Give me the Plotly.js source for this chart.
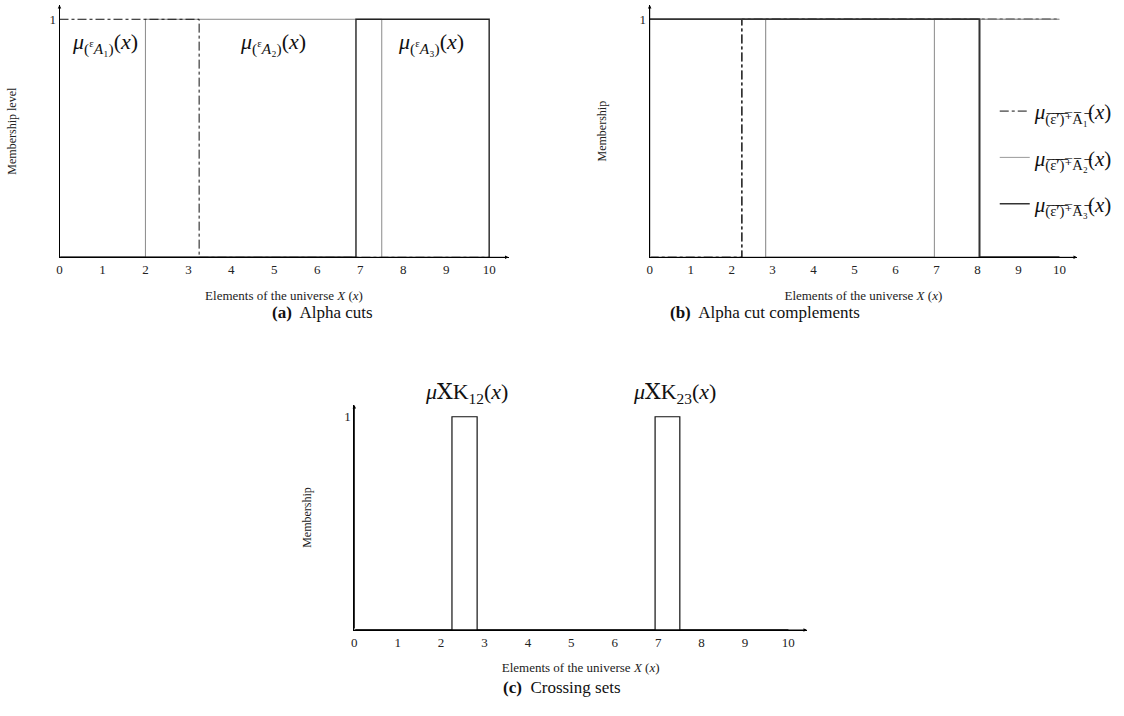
<!DOCTYPE html>
<html>
<head>
<meta charset="utf-8">
<script src="https://cdn.plot.ly/plotly-3.0.1.min.js"></script>
<style>html,body{margin:0;padding:0;background:#fff}#chart{width:1124px;height:716px}</style>
</head>
<body>
<div id="chart"></div>
<script>
// ---- data ----
const xTicks = [0,1,2,3,4,5,6,7,8,9,10];
// (a) alpha cuts (step breakpoints, hv)
const cutA1_x = [0, 3.25, 10],       cutA1_y = [1, 0, 0];
const cutA2_x = [0, 2, 7.5, 10],     cutA2_y = [0, 1, 0, 0];
const cutA3_x = [0, 6.9, 10],        cutA3_y = [0, 1, 0];
// (b) alpha cut complements
const compA1_x = [0, 2.25, 10],            compA1_y = [0, 1, 1];
const compA2_x = [0, 2.83, 6.95, 10],      compA2_y = [1, 0, 1, 1];
const compA3_x = [0, 8.05, 10],            compA3_y = [1, 0, 0];
// (c) crossing sets
const cross12_x = [0, 2.25, 2.83, 10],     cross12_y = [0, 1, 0, 0];
const cross23_x = [0, 6.93, 7.5, 10],      cross23_y = [0, 1, 0, 0];

const F = "Liberation Serif, DejaVu Serif, serif";
const OL = s => s.split('').map(c => c + '\u0305').join('');
const legA1 = '<i>μ</i><sub>' + OL('(ε′)⁺A₁') + '</sub>(<i>x</i>)';
const legA2 = '<i>μ</i><sub>' + OL('(ε′)⁺A₂') + '</sub>(<i>x</i>)';
const legA3 = '<i>μ</i><sub>' + OL('(ε′)⁺A₃') + '</sub>(<i>x</i>)';

function tr(x, y, xa, ya, color, width, dash, name, showlegend, group) {
  return {x: x, y: y, xaxis: xa, yaxis: ya, type: 'scatter', mode: 'lines',
    line: {shape: 'hv', color: color, width: width, dash: dash || 'solid'},
    name: name || '', showlegend: !!showlegend, legendgroup: group || '', hoverinfo: 'skip'};
}

const data = [
  tr(cutA2_x, cutA2_y, 'x', 'y', '#8a8a8a', 1, 'solid'),
  tr(cutA1_x, cutA1_y, 'x', 'y', '#111', 1, 'dashdot'),
  tr(cutA3_x, cutA3_y, 'x', 'y', '#222', 1.4, 'solid'),

  tr(compA2_x, compA2_y, 'x2', 'y2', '#999', 1, 'solid', legA2, false, 'g2'),
  tr(compA3_x, compA3_y, 'x2', 'y2', '#333', 1.6, 'solid', legA3, false, 'g3'),
  tr(compA1_x, compA1_y, 'x2', 'y2', '#111', 1, 'dashdot', legA1, false, 'g1'),
  // legend entries in the reference order
  tr(compA1_x, compA1_y, 'x2', 'y2', '#111', 1, 'dashdot', legA1, true, 'g1'),
  tr(compA2_x, compA2_y, 'x2', 'y2', '#999', 1, 'solid', legA2, true, 'g2'),
  tr(compA3_x, compA3_y, 'x2', 'y2', '#333', 1.6, 'solid', legA3, true, 'g3'),

  tr(cross12_x, cross12_y, 'x3', 'y3', '#111', 1.2, 'solid'),
  tr(cross23_x, cross23_y, 'x3', 'y3', '#111', 1.2, 'solid')
];

const W = 1124, H = 716;
function xax(l, r, xmax, anchor) {
  return {domain: [l / W, r / W], range: [0, xmax], anchor: anchor, showgrid: false, zeroline: false,
    showline: true, linecolor: '#000', linewidth: 1, ticks: '', tickvals: xTicks,
    ticktext: xTicks.map(String), tickfont: {family: F, size: 13, color: '#222'},
    fixedrange: true,
    title: {text: 'Elements of the universe <i>X</i> (<i>x</i>)', font: {family: F, size: 13, color: '#222'}, standoff: 14}};
}
function yax(bot, top, ymax, title, anchor) {
  return {domain: [(H - bot) / H, (H - top) / H], range: [0, ymax], anchor: anchor, showgrid: false, zeroline: false,
    showline: true, linecolor: '#000', linewidth: 1, ticks: '', tickvals: [1], ticktext: ['1'],
    tickfont: {family: F, size: 13, color: '#222'}, fixedrange: true,
    title: {text: title, font: {family: F, size: 12, color: '#222'}, standoff: 30}};
}

function arrow(xref, yref, x, y) {
  return {xref: xref, yref: yref, axref: xref, ayref: yref, x: x, y: y, ax: 0, ay: 0,
    text: '', showarrow: true, arrowhead: 2, arrowsize: 0.7, arrowwidth: 1, arrowcolor: '#000', standoff: 0};
}
function lab(xref, yref, x, y, text, size) {
  return {xref: xref, yref: yref, x: x, y: y, text: text, showarrow: false,
    font: {family: F, size: size || 22, color: '#111'}};
}

const layout = {
  width: W, height: H, margin: {l: 0, r: 0, t: 0, b: 0},
  paper_bgcolor: '#fff', plot_bgcolor: 'rgba(0,0,0,0)',
  font: {family: F, color: '#111'},
  xaxis: xax(59.5, 508.5, 10.45, 'y'),
  yaxis: yax(257.3, 5, 1.06, 'Membership level', 'x'),
  xaxis2: xax(649.7, 1077, 10.43, 'y2'),
  yaxis2: yax(257.3, 5, 1.06, 'Membership', 'x2'),
  xaxis3: xax(354.3, 807, 10.43, 'y3'),
  yaxis3: yax(630, 405, 1.055, 'Membership', 'x3'),
  showlegend: true,
  legend: {x: 0.885, y: 0.873, xanchor: 'left', yanchor: 'top', bgcolor: 'rgba(0,0,0,0)',
    font: {family: F, size: 21, color: '#111'}, itemwidth: 30, tracegroupgap: 16},
  annotations: [
    arrow('x', 'y', 10.45, 0), arrow('x', 'y', 0, 1.06),
    arrow('x2', 'y2', 10.43, 0), arrow('x2', 'y2', 0, 1.06),
    arrow('x3', 'y3', 10.43, 0), arrow('x3', 'y3', 0, 1.055),
    lab('x', 'y', 1.05, 0.9, '<i>μ</i><sub>(<sup>ε</sup><i>A</i>₁)</sub>(<i>x</i>)'),
    lab('x', 'y', 4.98, 0.9, '<i>μ</i><sub>(<sup>ε</sup><i>A</i>₂)</sub>(<i>x</i>)'),
    lab('x', 'y', 8.65, 0.9, '<i>μ</i><sub>(<sup>ε</sup><i>A</i>₃)</sub>(<i>x</i>)'),
    lab('paper', 'paper', 466 / W, (H - 393) / H, '<i>μ</i>ⅩK<sub>12</sub>(<i>x</i>)'),
    lab('paper', 'paper', 674 / W, (H - 393) / H, '<i>μ</i>ⅩK<sub>23</sub>(<i>x</i>)'),
    lab('paper', 'paper', 270 / W, (H - 312) / H, '<b>(a)</b>  Alpha cuts', 17),
    lab('paper', 'paper', 862 / W, (H - 312) / H, '<b>(b)</b>  Alpha cut complements', 17),
    lab('paper', 'paper', 562 / W, (H - 699) / H, '<b>(c)</b>  Crossing sets', 17)
  ]
};

Plotly.newPlot('chart', data, layout, {staticPlot: true, displayModeBar: false});
</script>
</body>
</html>
